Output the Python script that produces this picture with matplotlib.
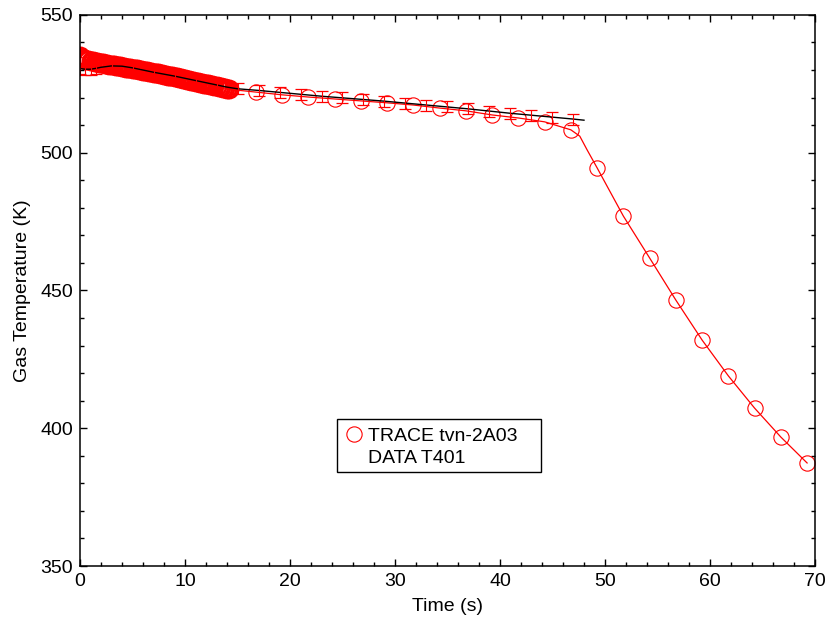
import numpy as np
import matplotlib
matplotlib.use("Agg")
import matplotlib.pyplot as plt
from matplotlib.lines import Line2D
from matplotlib.patches import Rectangle
from matplotlib.ticker import MultipleLocator

plt.rcParams['font.family'] = ['Liberation Sans', 'DejaVu Sans']

# TRACE tvn-2A03: dense output for the first 14 s, then every 2.5 s
trace_t_dense = np.round(np.arange(0, 14.21, 0.2), 1)
trace_T_dense = [535.0, 534.5, 534.1, 533.8, 533.5,
                 533.2, 533.1, 532.9, 532.8, 532.6, 532.5, 532.4, 532.2,
                 532.1, 532.0, 531.8, 531.7, 531.5, 531.4, 531.3, 531.1,
                 531.0, 530.9, 530.7, 530.6, 530.4, 530.3, 530.2, 530.0,
                 529.9, 529.8, 529.6, 529.5, 529.3, 529.2, 529.1, 528.9,
                 528.8, 528.6, 528.5, 528.3, 528.2, 528.0, 527.8, 527.7,
                 527.5, 527.3, 527.1, 527.0, 526.8, 526.6, 526.5, 526.3,
                 526.1, 526.0, 525.8, 525.6, 525.4, 525.3, 525.1, 524.9,
                 524.8, 524.6, 524.4, 524.3, 524.1, 523.9, 523.7, 523.6,
                 523.4, 523.2, 523.0]
trace_t_sparse = [16.75, 19.25, 21.75, 24.25, 26.75, 29.25, 31.75, 34.25,
                  36.75, 39.25, 41.75, 44.25, 46.75, 49.25, 51.75, 54.25,
                  56.75, 59.25, 61.75, 64.25, 66.75, 69.25]
trace_T_sparse = [522.0, 521.0, 520.2, 519.5, 518.8, 518.1, 517.3, 516.2,
                  515.2, 513.7, 512.6, 511.2, 508.3, 494.5, 477.0, 461.8,
                  446.5, 432.0, 419.0, 407.3, 396.8, 387.4]
# line-only points where the trace bends down
bend_t = [47.6, 48.3]
bend_T = [506.0, 501.0]

# DATA T401
data_t = [0, 0.5, 1, 1.5, 2, 3, 4, 5, 6, 7, 8, 9, 10, 11, 12, 13, 14, 15,
          17, 19, 21, 23, 25, 27, 29, 31, 33, 35, 37, 39, 41, 43, 45, 47, 48]
data_T = [530.5, 530.3, 530.3, 530.6, 531.0, 531.5, 531.4, 530.8, 530.0,
          529.2, 528.5, 527.8, 527.0, 526.2, 525.4, 524.6, 523.8, 523.2,
          522.6, 521.9, 521.2, 520.5, 519.9, 519.3, 518.7, 518.0, 517.3,
          516.6, 515.9, 515.1, 514.3, 513.6, 512.9, 512.2, 511.8]
data_err = 2.0

line_t = np.concatenate([trace_t_dense, trace_t_sparse, bend_t])
line_T = np.concatenate([trace_T_dense, trace_T_sparse, bend_T])
order = np.argsort(line_t)

fig = plt.figure(figsize=(8.3, 6.22), dpi=100)
ax = fig.add_axes([0.0964, 0.090, 0.8855, 0.886])

ax.plot(line_t[order], line_T[order], color='red', lw=0.9)
ax.plot(trace_t_dense, trace_T_dense, ls='none', marker='o', ms=12.5,
        mfc='none', mec='red', mew=1.8)
ax.plot(trace_t_sparse, trace_T_sparse, ls='none', marker='o', ms=11,
        mfc='none', mec='red', mew=0.8)
ax.plot(data_t, data_T, color='black', lw=1.0)

err_idx = [i for i, t in enumerate(data_t) if t < 2 or (t % 2 == 1 and t < 48)]
ax.errorbar([data_t[i] for i in err_idx], [data_T[i] for i in err_idx],
            yerr=data_err, fmt='none', ecolor='red', elinewidth=0.8,
            capsize=4.5, capthick=0.9)

ax.set_xlim(0, 70)
ax.set_ylim(350, 550)
ax.xaxis.set_major_locator(MultipleLocator(10))
ax.xaxis.set_minor_locator(MultipleLocator(2))
ax.yaxis.set_major_locator(MultipleLocator(50))
ax.yaxis.set_minor_locator(MultipleLocator(10))
ax.tick_params(which='both', direction='in', top=True, right=True,
               labelsize=14, width=1.0)
ax.tick_params(which='major', length=5, pad=5)
ax.tick_params(which='minor', length=3)
for s in ax.spines.values():
    s.set_linewidth(1.1)

ax.set_xlabel("Time (s)", fontsize=14, labelpad=6)
ax.set_ylabel("Gas Temperature (K)", fontsize=14, labelpad=7)

# legend box
ax.add_patch(Rectangle((0.350, 0.171), 0.277, 0.096, transform=ax.transAxes,
                       fill=False, edgecolor='black', lw=1.0, zorder=5))
handles = [Line2D([], [], ls='none', marker='o', ms=11, mfc='none',
                  mec='red', mew=0.8),
           Line2D([], [], ls='none', marker='none')]
ax.legend(handles, ["TRACE tvn-2A03", "DATA T401"], loc='upper left',
          bbox_to_anchor=(0.350, 0.267), fontsize=14, frameon=False,
          handlelength=0.8, handletextpad=0.35, borderpad=0.45,
          labelspacing=0.22, borderaxespad=0)

fig.savefig("out.png", dpi=100)
